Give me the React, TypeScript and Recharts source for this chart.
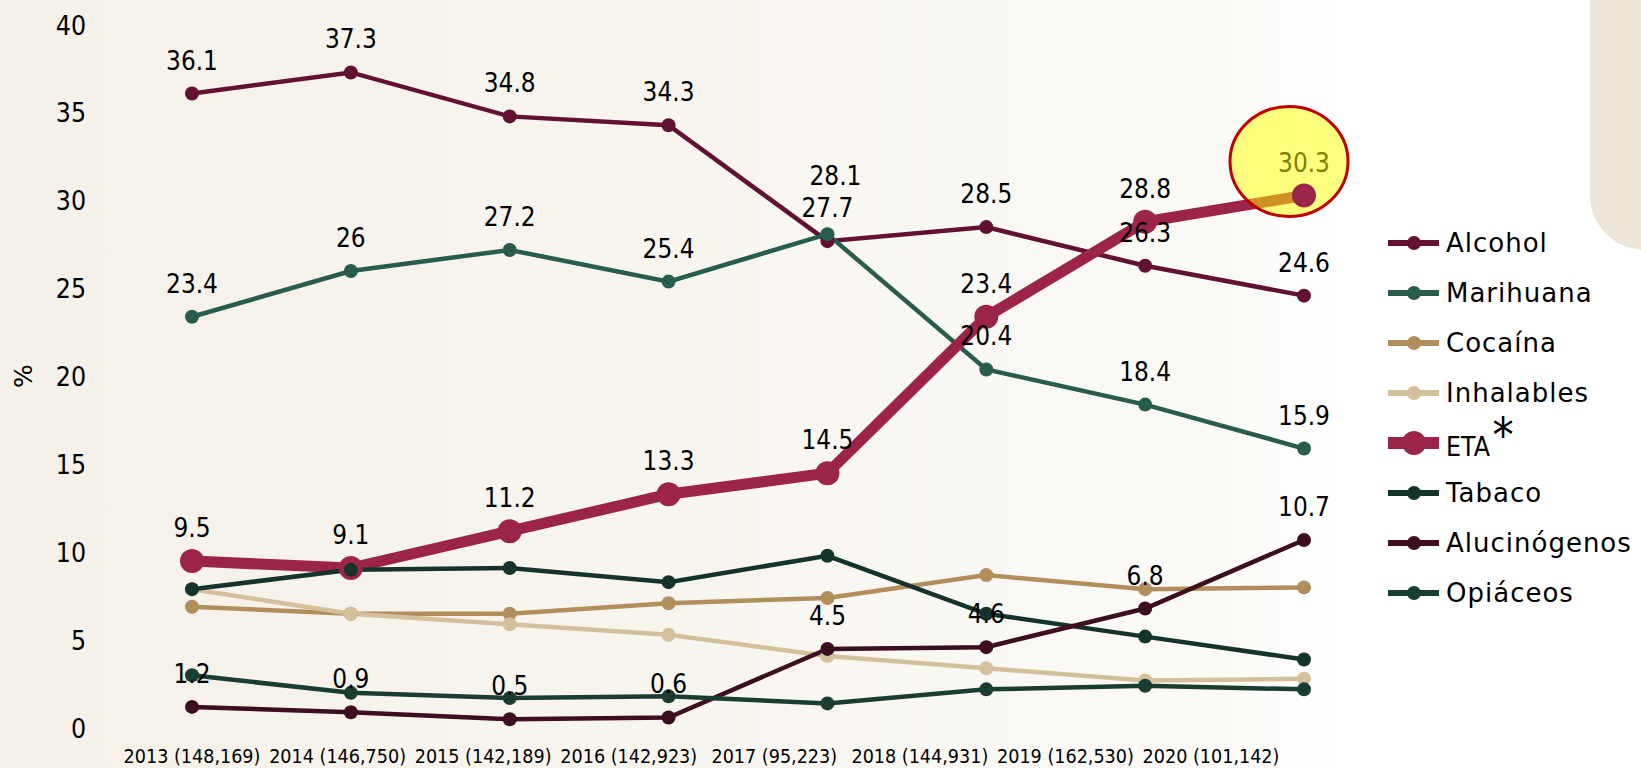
import React from "react";
import {
  LineChart,
  Line,
  XAxis,
  YAxis,
  LabelList,
  Legend,
  ReferenceDot,
} from "recharts";

// ---- data ----
const categories = ["2013", "2014", "2015", "2016", "2017", "2018", "2019", "2020"];
const tickLabels = [
  "2013 (148,169)",
  "2014 (146,750)",
  "2015 (142,189)",
  "2016 (142,923)",
  "2017 (95,223)",
  "2018 (144,931)",
  "2019 (162,530)",
  "2020 (101,142)",
];
const alcohol = [36.1, 37.3, 34.8, 34.3, 27.7, 28.5, 26.3, 24.6];
const marihuana = [23.4, 26, 27.2, 25.4, 28.1, 20.4, 18.4, 15.9];
const cocaina = [6.9, 6.5, 6.5, 7.1, 7.4, 8.7, 7.9, 8.0];
const inhalables = [7.9, 6.5, 5.9, 5.3, 4.1, 3.4, 2.7, 2.8];
const eta = [9.5, 9.1, 11.2, 13.3, 14.5, 23.4, 28.8, 30.3];
const tabaco = [7.9, 9.0, 9.1, 8.3, 9.8, 6.5, 5.2, 3.9];
const alucinogenos = [1.2, 0.9, 0.5, 0.6, 4.5, 4.6, 6.8, 10.7];
const opiaceos = [3.0, 2.0, 1.7, 1.8, 1.4, 2.2, 2.4, 2.2];
const yTicks = [0, 5, 10, 15, 20, 25, 30, 35, 40];

const data = categories.map((c, i) => ({
  year: c,
  alcohol: alcohol[i],
  marihuana: marihuana[i],
  cocaina: cocaina[i],
  inhalables: inhalables[i],
  eta: eta[i],
  tabaco: tabaco[i],
  alucinogenos: alucinogenos[i],
  opiaceos: opiaceos[i],
}));

const FONT = "'DejaVu Sans', Verdana, sans-serif";

type SeriesCfg = {
  key: string;
  name: string;
  color: string;
  width: number;
  r: number;
  labels: boolean;
};

const series: SeriesCfg[] = [
  { key: "alcohol", name: "Alcohol", color: "#621132", width: 4.5, r: 7, labels: true },
  { key: "marihuana", name: "Marihuana", color: "#285c4d", width: 4.5, r: 7, labels: true },
  { key: "cocaina", name: "Cocaína", color: "#b38e5d", width: 4.5, r: 7, labels: false },
  { key: "inhalables", name: "Inhalables", color: "#d4c19c", width: 4.5, r: 7, labels: false },
  { key: "eta", name: "ETA", color: "#9d2449", width: 11, r: 12, labels: true },
  { key: "tabaco", name: "Tabaco", color: "#14342b", width: 4.5, r: 7, labels: false },
  { key: "alucinogenos", name: "Alucinógenos", color: "#3d0d20", width: 4.5, r: 7, labels: true },
  { key: "opiaceos", name: "Opiáceos", color: "#1a3d31", width: 4.5, r: 7, labels: false },
];

const labelOffsets: Record<string, Record<number, [number, number]>> = {
  marihuana: { 4: [8, -58] },
};

// narrow text (reference font is Tahoma-like): DejaVu Sans squeezed horizontally
const NarrowText = ({
  x,
  y,
  size,
  anchor,
  fill,
  children,
}: {
  x: number;
  y: number;
  size: number;
  anchor: "start" | "middle" | "end";
  fill: string;
  children: React.ReactNode;
}) => (
  <text
    transform={`translate(${x},${y}) scale(0.88,1)`}
    x={0}
    y={0}
    textAnchor={anchor}
    dominantBaseline="central"
    fontFamily={FONT}
    fontSize={size}
    fill={fill}
  >
    {children}
  </text>
);

const makeLabel = (key: string) => (props: any) => {
  const { x, y, value, index } = props;
  const off = (labelOffsets[key] && labelOffsets[key][index]) || [0, -33];
  const olive = key === "eta" && index === categories.length - 1;
  return (
    <NarrowText
      x={x + off[0]}
      y={y + off[1]}
      size={26.5}
      anchor="middle"
      fill={olive ? "#7f7f00" : "#000"}
    >
      {value}
    </NarrowText>
  );
};

const YTick = (props: any) => {
  const { y, payload } = props;
  return (
    <NarrowText x={86} y={y} size={27} anchor="end" fill="#000">
      {payload.value}
    </NarrowText>
  );
};

const XTick = (props: any) => {
  const { x, payload } = props;
  const idx = categories.indexOf(String(payload.value));
  return (
    <NarrowText x={x} y={756} size={20} anchor="middle" fill="#000">
      {tickLabels[idx]}
    </NarrowText>
  );
};

const LegendContent = () => (
  <div style={{ display: "flex", flexDirection: "column" }}>
    {series.map((s) => (
      <div
        key={s.key}
        style={{ display: "flex", alignItems: "center", height: 50 }}
      >
        <svg width={58} height={50} style={{ display: "block", flex: "none" }}>
          <line
            x1={0}
            x2={51}
            y1={25}
            y2={25}
            stroke={s.color}
            strokeWidth={s.key === "eta" ? 12 : 6}
          />
          <circle cx={26} cy={25} r={s.key === "eta" ? 12 : 7} fill={s.color} />
        </svg>
        {s.key === "eta" ? (
          <span
            style={{
              fontFamily: FONT,
              fontSize: 27,
              color: "#000",
              lineHeight: "50px",
              whiteSpace: "nowrap",
              display: "inline-block",
              transform: "scale(0.88,1)",
              transformOrigin: "left center",
            }}
          >
            ETA
            <span
              style={{
                fontSize: 48,
                position: "relative",
                top: -4,
                marginLeft: 3,
              }}
            >
              *
            </span>
          </span>
        ) : (
          <span
            style={{
              fontFamily: FONT,
              fontSize: 26,
              letterSpacing: 1,
              color: "#000",
              lineHeight: "50px",
              whiteSpace: "nowrap",
            }}
          >
            {s.name}
          </span>
        )}
      </div>
    ))}
  </div>
);

const HighlightShape = (props: any) => {
  const { cx, cy } = props;
  return (
    <ellipse
      cx={cx - 15}
      cy={cy - 34}
      rx={59}
      ry={55}
      fill="#ffff00"
      fillOpacity={0.5}
      stroke="#c00000"
      strokeWidth={3}
    />
  );
};

export default function App() {
  return (
    <div
      style={{
        position: "absolute",
        left: 0,
        top: 0,
        width: 1641,
        height: 768,
        overflow: "hidden",
        background:
          "linear-gradient(90deg, #f5f1e8 0%, #f8f5ef 40%, #fbfaf7 75%, #ffffff 82%)",
      }}
    >
      <div
        style={{
          position: "absolute",
          left: 1590,
          top: -20,
          width: 80,
          height: 270,
          background: "#ede5d7",
          borderBottomLeftRadius: 55,
        }}
      />
      <div style={{ position: "absolute", left: 0, top: 0 }}>
        <LineChart
          width={1641}
          height={768}
          data={data}
          margin={{ top: 25, right: 337, bottom: 0, left: 0 }}
        >
          <XAxis dataKey="year" scale="point" padding={{ left: 0, right: 0 }} hide />
          <XAxis
            xAxisId="lbl"
            dataKey="year"
            scale="point"
            padding={{ left: 0, right: 93 }}
            axisLine={false}
            tickLine={false}
            height={40}
            tick={<XTick />}
            interval={0}
          />
          <YAxis
            domain={[0, 40]}
            ticks={yTicks}
            width={192}
            axisLine={false}
            tickLine={false}
            tick={<YTick />}
            interval={0}
            label={{
              content: () => (
                <text
                  x={23}
                  y={376}
                  transform="rotate(-90 23 376)"
                  textAnchor="middle"
                  dominantBaseline="central"
                  fontFamily={FONT}
                  fontSize={25}
                  fill="#000"
                >
                  %
                </text>
              ),
            }}
          />
          {series.map((s) => (
            <Line
              key={s.key}
              dataKey={s.key}
              name={s.name}
              stroke={s.color}
              strokeWidth={s.width}
              dot={{ r: s.r, fill: s.color, stroke: "none", strokeWidth: 0 }}
              activeDot={false}
              isAnimationActive={false}
            >
              {s.labels ? <LabelList dataKey={s.key} content={makeLabel(s.key)} /> : null}
            </Line>
          ))}
          <ReferenceDot
            x={categories[categories.length - 1]}
            y={eta[eta.length - 1]}
            r={57}
            shape={<HighlightShape />}
            ifOverflow="visible"
          />
          <Legend
            layout="vertical"
            align="center"
            verticalAlign="middle"
            content={<LegendContent />}
            wrapperStyle={{ position: "absolute", left: 1388, top: 218, width: 253, margin: 0 }}
          />
        </LineChart>
      </div>
    </div>
  );
}
